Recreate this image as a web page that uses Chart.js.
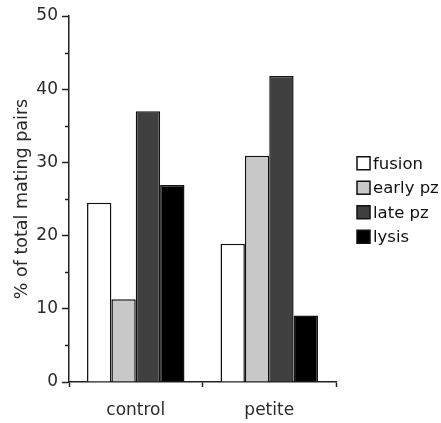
<!DOCTYPE html>
<html>
<head>
<meta charset="utf-8">
<script src="https://cdn.jsdelivr.net/npm/chart.js@4/dist/chart.umd.min.js"></script>
<style>
  html, body { margin: 0; padding: 0; background: #fff; }
  #wrap { width: 441px; height: 423px; }
</style>
</head>
<body>
<div id="wrap"><canvas id="graphique"></canvas></div>
<script>
// Catégories et séries
const categories = ["control", "petite"];
const fusion = [24.5, 18.9];
const earlyPz = [11.3, 30.9];
const latePz = [37.0, 41.8];
const lysis = [26.9, 9.1];
const yTicks = [0, 10, 20, 30, 40, 50];

const axisColor = "#222";
const textColor = "#2a2a2a";
const police = "DejaVu Sans";

// petites graduations (tous les 5) + prolongement de l'axe x à gauche
const minorTicks = {
  id: "minorTicks",
  afterDraw(chart) {
    const y = chart.scales.y;
    const ctx = chart.ctx;
    ctx.save();
    ctx.strokeStyle = axisColor;
    ctx.lineWidth = 1.5;
    for (let v = 5; v < 50; v += 10) {
      const py = Math.round(y.getPixelForValue(v)) + 0.5;
      ctx.beginPath();
      ctx.moveTo(y.right - 4, py);
      ctx.lineTo(y.right, py);
      ctx.stroke();
    }
    ctx.restore();
  }
};

// légende à droite, dessinée à la main (carré collé au texte)
const legendeDroite = {
  id: "legendeDroite",
  afterDraw(chart) {
    const ctx = chart.ctx;
    const area = chart.chartArea;
    const sets = chart.data.datasets;
    const pas = 24.5;
    const x0 = area.right + 21;
    const milieu = (area.top + area.bottom) / 2 + 1;
    const y0 = milieu - pas * (sets.length - 1) / 2;
    ctx.save();
    ctx.font = "16.5px " + police;
    ctx.textBaseline = "middle";
    ctx.textAlign = "left";
    for (let i = 0; i < sets.length; i++) {
      const cy = y0 + i * pas;
      ctx.fillStyle = sets[i].backgroundColor;
      ctx.fillRect(x0, cy - 6.5, 13, 13);
      ctx.strokeStyle = "#111";
      ctx.lineWidth = 1.5;
      ctx.strokeRect(x0, cy - 6.5, 13, 13);
      ctx.fillStyle = "#111";
      ctx.fillText(sets[i].label, x0 + 16, cy + 1);
    }
    ctx.restore();
  }
};

const data = {
  labels: categories,
  datasets: [
    { label: "fusion", data: fusion, backgroundColor: "#ffffff" },
    { label: "early pz", data: earlyPz, backgroundColor: "#c8c8c8" },
    { label: "late pz", data: latePz, backgroundColor: "#404040" },
    { label: "lysis", data: lysis, backgroundColor: "#000000" }
  ].map(d => Object.assign(d, {
    borderColor: "#111",
    borderWidth: 1.5,
    borderSkipped: "bottom",
    categoryPercentage: 0.73,
    barPercentage: 1.0
  }))
};

const config = {
  type: "bar",
  data: data,
  options: {
    responsive: true,
    maintainAspectRatio: false,
    animation: false,
    layout: { padding: { top: 16, left: 0, right: 105, bottom: 0 } },
    plugins: {
      tooltip: { enabled: false },
      legend: { display: false }
    },
    scales: {
      x: {
        grid: {
          offset: true,
          drawOnChartArea: false,
          drawTicks: true,
          tickLength: 5,
          tickWidth: 1.5,
          tickColor: axisColor
        },
        border: { color: axisColor, width: 1.5 },
        ticks: {
          color: textColor,
          padding: 13,
          font: { family: police, size: 17 }
        },
        afterFit(scale) { scale.height = 41; }
      },
      y: {
        min: 0,
        max: 50,
        afterBuildTicks(scale) {
          scale.ticks = yTicks.map(v => ({ value: v }));
        },
        grid: {
          drawOnChartArea: false,
          tickLength: 7,
          tickWidth: 1.5,
          tickColor: axisColor
        },
        border: { color: axisColor, width: 1.5 },
        ticks: {
          color: textColor,
          padding: 4,
          font: { family: police, size: 17 }
        },
        title: {
          display: true,
          text: "% of total mating pairs",
          color: textColor,
          font: { family: police, size: 17.5 },
          padding: { top: 12, bottom: 0 }
        },
        afterFit(scale) { scale.width = 69; }
      }
    }
  },
  plugins: [minorTicks, legendeDroite]
};

const graphique = new Chart(document.querySelector("#graphique"), config);
</script>
</body>
</html>
